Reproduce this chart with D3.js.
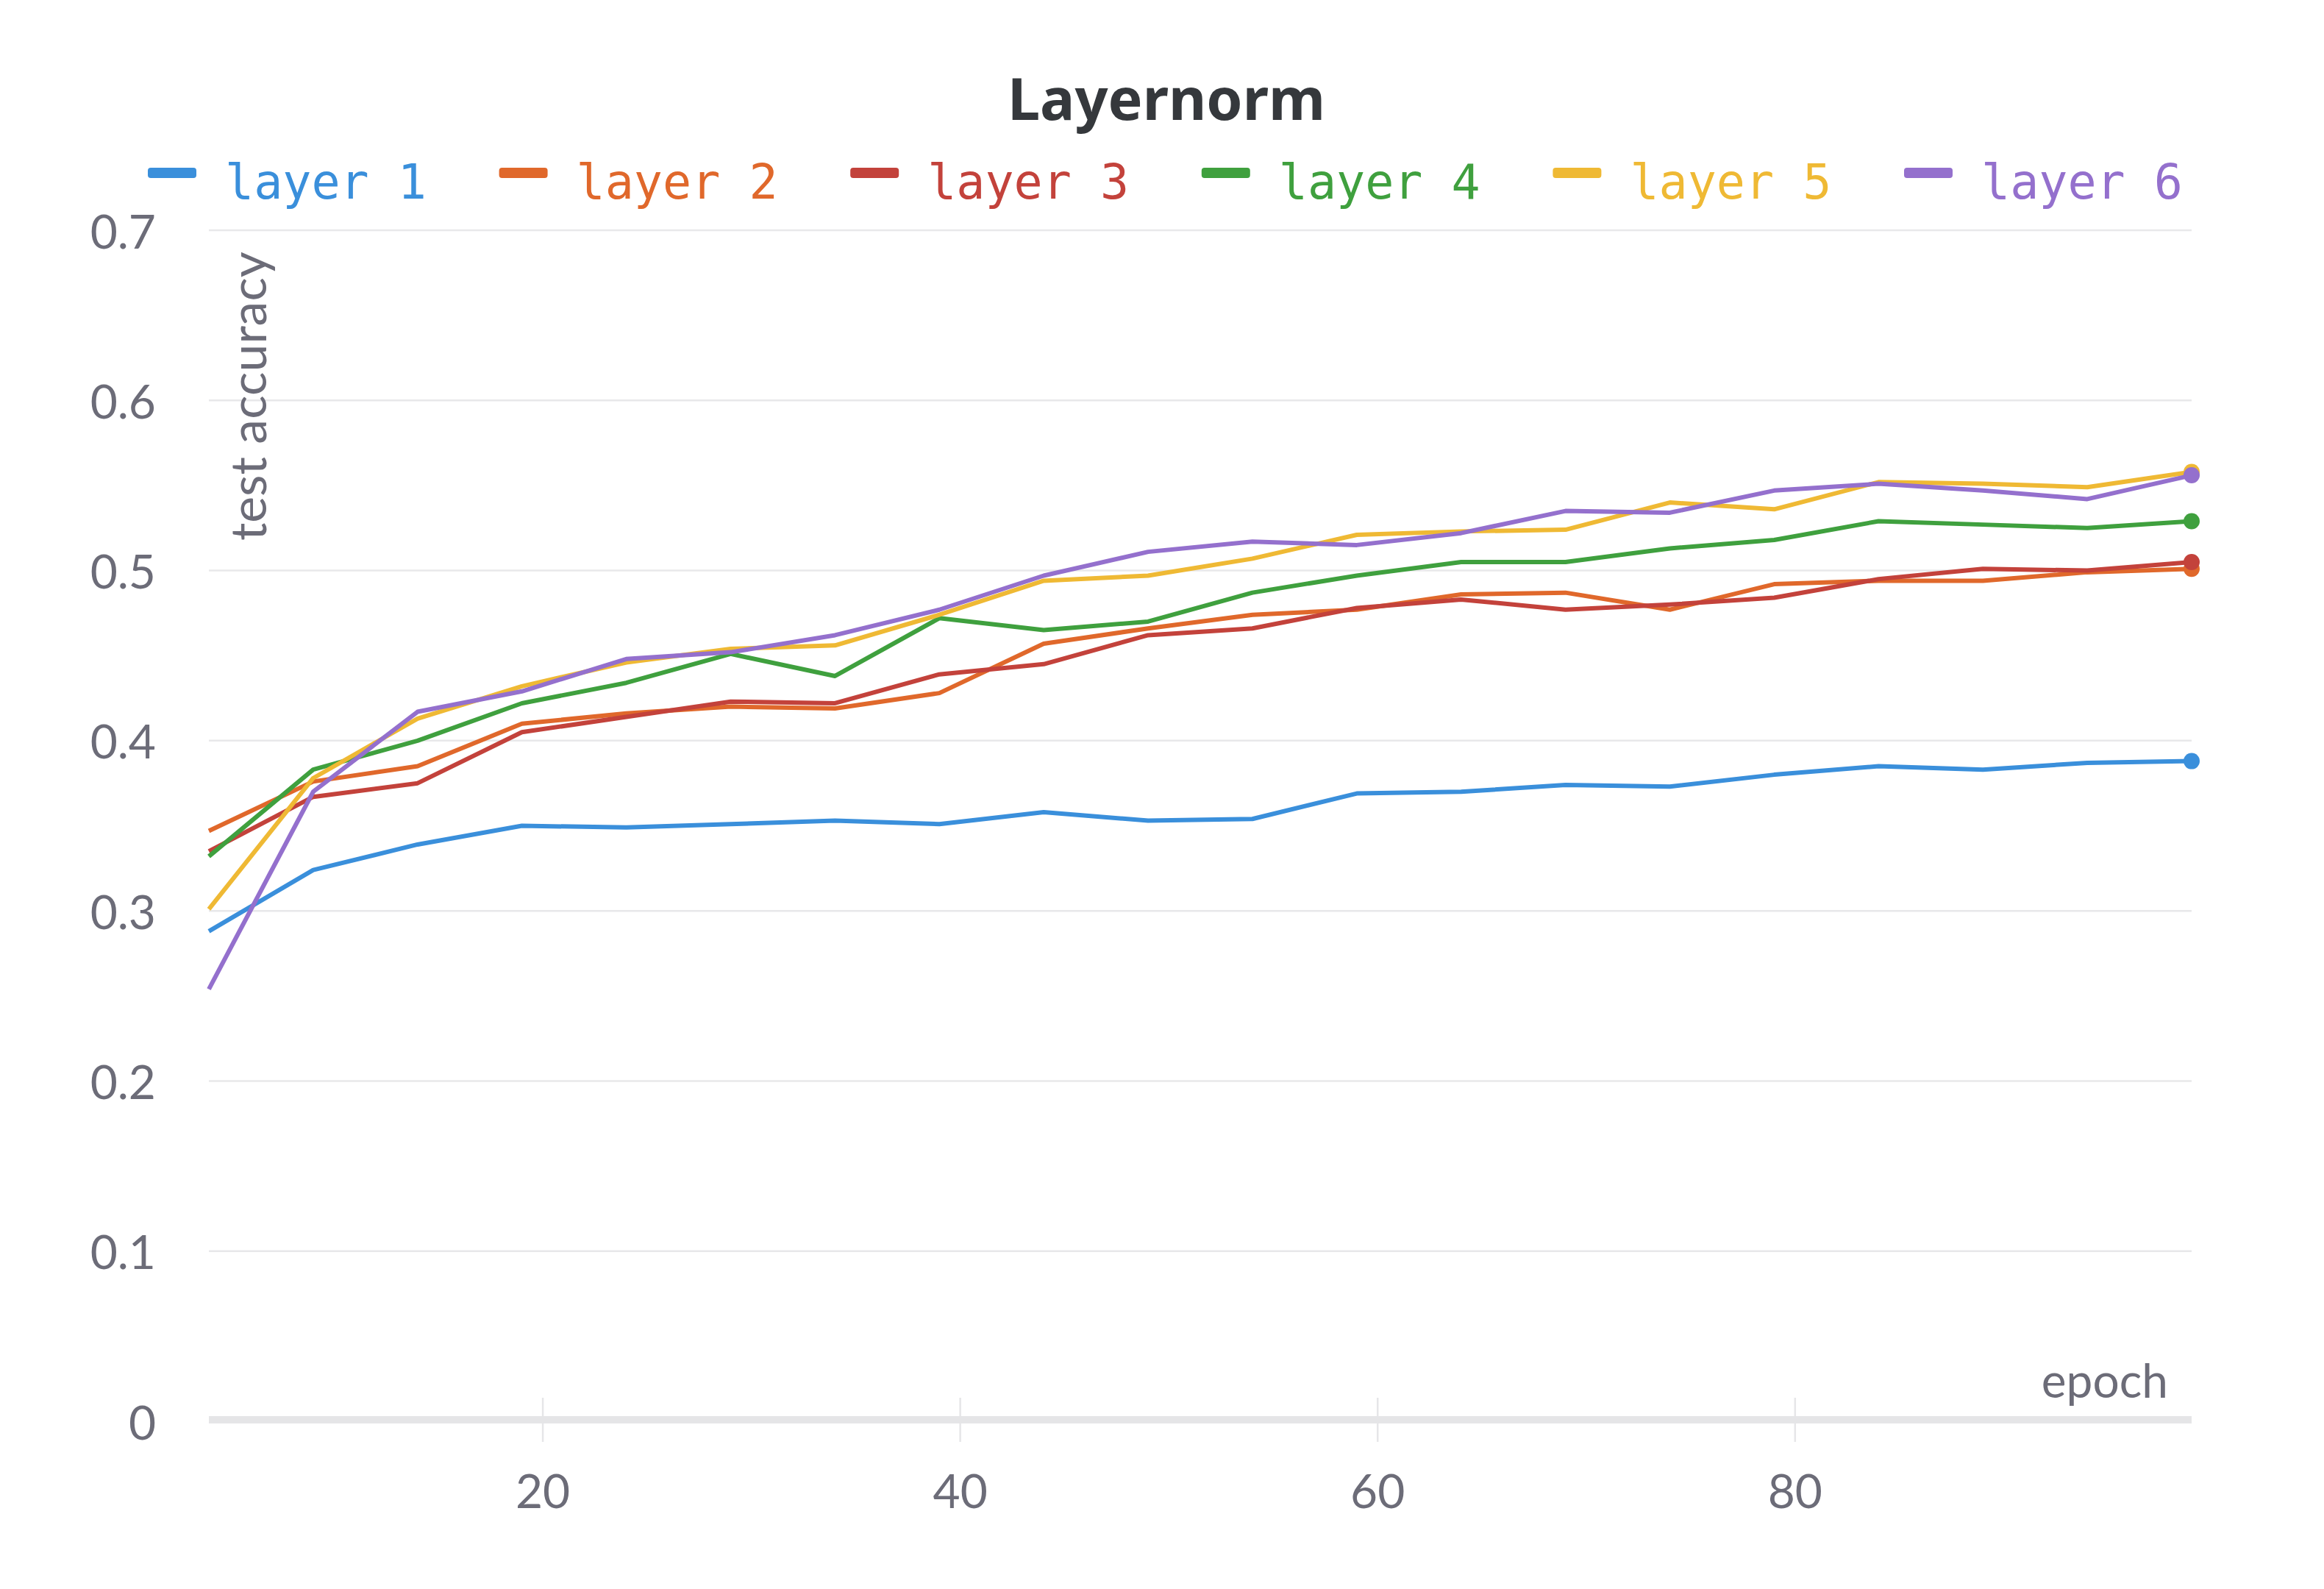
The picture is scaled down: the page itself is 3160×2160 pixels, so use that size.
<!DOCTYPE html>
<html lang="en">
<head>
<meta charset="UTF-8">
<title>Layernorm</title>
<script src="https://d3js.org/d3.v7.min.js"></script>
<style>
  body {
    margin: 0;
    background-color: #ffffff;
  }
  .tick-label, .axis-title {
    font-family: Lato, "Noto Sans", sans-serif;
    font-size: 64px;
    fill: #6c6c78;
  }
  .ylabel {
    font-size: 68px;
  }
  .chart-title {
    font-family: "Noto Sans", Lato, sans-serif;
    font-size: 79px;
    font-weight: bold;
    fill: #35383c;
  }
  .legend-label {
    font-family: "DejaVu Sans Mono", monospace;
    font-size: 65px;
  }
</style>
</head>
<body>
<svg id="chart"></svg>

<script>
// data
var epochs = [4, 9, 14, 19, 24, 29, 34, 39, 44, 49, 54, 59, 64, 69, 74, 79, 84, 89, 94, 99];
var seriesNames = ["layer 1", "layer 2", "layer 3", "layer 4", "layer 5", "layer 6"];
var layer1 = [0.288, 0.324, 0.339, 0.350, 0.349, 0.351, 0.353, 0.351, 0.358, 0.353, 0.354, 0.369, 0.370, 0.374, 0.373, 0.380, 0.385, 0.383, 0.387, 0.388];
var layer2 = [0.347, 0.376, 0.385, 0.410, 0.416, 0.420, 0.419, 0.428, 0.457, 0.466, 0.474, 0.477, 0.486, 0.487, 0.477, 0.492, 0.494, 0.494, 0.499, 0.501];
var layer3 = [0.335, 0.367, 0.375, 0.405, 0.414, 0.423, 0.422, 0.439, 0.445, 0.462, 0.466, 0.478, 0.483, 0.477, 0.480, 0.484, 0.495, 0.501, 0.500, 0.505];
var layer4 = [0.332, 0.383, 0.400, 0.422, 0.434, 0.451, 0.438, 0.472, 0.465, 0.470, 0.487, 0.497, 0.505, 0.505, 0.513, 0.518, 0.529, 0.527, 0.525, 0.529];
var layer5 = [0.301, 0.378, 0.413, 0.432, 0.446, 0.454, 0.456, 0.474, 0.494, 0.497, 0.507, 0.521, 0.523, 0.524, 0.540, 0.536, 0.552, 0.551, 0.549, 0.558];
var layer6 = [0.254, 0.370, 0.417, 0.429, 0.448, 0.452, 0.462, 0.477, 0.497, 0.511, 0.517, 0.515, 0.522, 0.535, 0.534, 0.547, 0.551, 0.547, 0.542, 0.556];
var colors = ["#3a8fdb", "#e0682b", "#c3423b", "#3fa03e", "#efb934", "#9470cd"];
var xTicks = [20, 40, 60, 80];
var yTicks = [0, 0.1, 0.2, 0.3, 0.4, 0.5, 0.6, 0.7];

var allSeries = [layer1, layer2, layer3, layer4, layer5, layer6];

var width = 3160;
var height = 2160;

var svg = d3.select("#chart")
  .attr("width", width)
  .attr("height", height);

var x = d3.scaleLinear().domain([4, 99]).range([284, 2980]);
var y = d3.scaleLinear().domain([0, 0.7]).range([1932, 313]);

// grid lines
svg.selectAll("line.grid")
  .data(yTicks.filter(d => d > 0))
  .enter()
  .append("line")
  .attr("class", "grid")
  .attr("x1", x.range()[0])
  .attr("x2", x.range()[1])
  .attr("y1", d => y(d))
  .attr("y2", d => y(d))
  .attr("stroke", "#e8e8ea")
  .attr("stroke-width", 2.5);

// y tick labels
svg.selectAll("text.ylab")
  .data(yTicks)
  .enter()
  .append("text")
  .attr("class", "tick-label")
  .attr("x", 212)
  .attr("y", d => y(d))
  .attr("text-anchor", "end")
  .attr("dominant-baseline", "central")
  .text(d => d === 0 ? "0" : d3.format(".1f")(d));

// x ticks
svg.selectAll("line.xtick")
  .data(xTicks)
  .enter()
  .append("line")
  .attr("x1", d => x(d))
  .attr("x2", d => x(d))
  .attr("y1", y(0) - 32)
  .attr("y2", y(0) + 28)
  .attr("stroke", "#e6e6e8")
  .attr("stroke-width", 2.5);

// x axis bar
svg.append("line")
  .attr("x1", x.range()[0])
  .attr("x2", x.range()[1])
  .attr("y1", y(0) - 2)
  .attr("y2", y(0) - 2)
  .attr("stroke", "#e5e5e7")
  .attr("stroke-width", 10);

svg.selectAll("text.xlab")
  .data(xTicks)
  .enter()
  .append("text")
  .attr("class", "tick-label")
  .attr("x", d => x(d))
  .attr("y", 2050)
  .attr("text-anchor", "middle")
  .text(d => d);

// axis titles
svg.append("text")
  .attr("class", "axis-title")
  .attr("x", 2948)
  .attr("y", 1900)
  .attr("text-anchor", "end")
  .text("epoch");

svg.append("text")
  .attr("class", "axis-title ylabel")
  .attr("transform", "translate(362,735) rotate(-90)")
  .attr("text-anchor", "start")
  .text("test accuracy");

// lines
var line = d3.line()
  .x((d, i) => x(epochs[i]))
  .y(d => y(d));

allSeries.forEach(function(values, s) {
  svg.append("path")
    .datum(values)
    .attr("fill", "none")
    .attr("stroke", colors[s])
    .attr("stroke-width", 6)
    .attr("stroke-linejoin", "round")
    .attr("d", line);
});

// end dots
allSeries.forEach(function(values, s) {
  var last = values.length - 1;
  svg.append("circle")
    .attr("cx", x(epochs[last]))
    .attr("cy", y(values[last]))
    .attr("r", 11)
    .attr("fill", colors[s]);
});

// title
svg.append("text")
  .attr("class", "chart-title")
  .attr("x", 1586)
  .attr("y", 163)
  .attr("text-anchor", "middle")
  .text("Layernorm");

// legend
var legend = svg.selectAll("g.legend")
  .data(seriesNames)
  .enter()
  .append("g")
  .attr("transform", (d, i) => "translate(" + (201 + i * 477.6) + ",0)");

legend.append("rect")
  .attr("x", 0)
  .attr("y", 228)
  .attr("width", 66)
  .attr("height", 14)
  .attr("rx", 4)
  .attr("fill", (d, i) => colors[i]);

legend.append("text")
  .attr("class", "legend-label")
  .attr("x", 105)
  .attr("y", 270)
  .attr("fill", (d, i) => colors[i])
  .text(d => d);
</script>
</body>
</html>
